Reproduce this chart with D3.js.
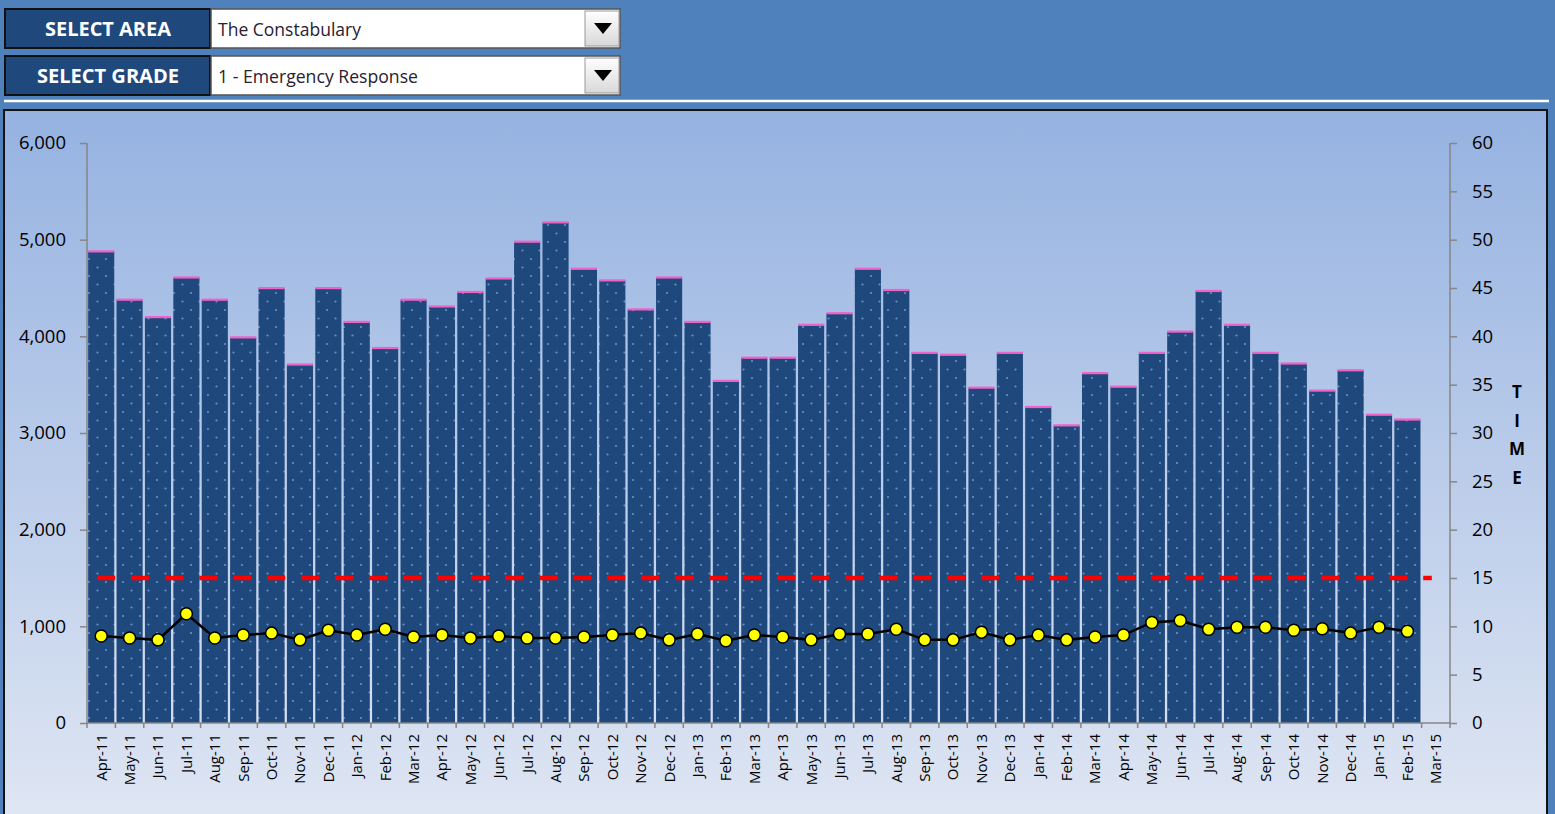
<!DOCTYPE html>
<html><head><meta charset="utf-8">
<script src="https://cdn.jsdelivr.net/npm/d3@7"></script>
<style>
html,body{margin:0;padding:0;background:#4f81bd;overflow:hidden;}
svg{display:block;}
</style></head>
<body>
<script>
const months = ["Apr-11","May-11","Jun-11","Jul-11","Aug-11","Sep-11","Oct-11","Nov-11","Dec-11","Jan-12","Feb-12","Mar-12",
"Apr-12","May-12","Jun-12","Jul-12","Aug-12","Sep-12","Oct-12","Nov-12","Dec-12","Jan-13","Feb-13","Mar-13",
"Apr-13","May-13","Jun-13","Jul-13","Aug-13","Sep-13","Oct-13","Nov-13","Dec-13","Jan-14","Feb-14","Mar-14",
"Apr-14","May-14","Jun-14","Jul-14","Aug-14","Sep-14","Oct-14","Nov-14","Dec-14","Jan-15","Feb-15","Mar-15"];
const incidents = [4880,4380,4200,4610,4380,3990,4500,3710,4500,4150,3880,4380,
4310,4460,4600,4980,5180,4700,4580,4280,4610,4150,3540,3780,
3780,4120,4240,4700,4480,3830,3810,3470,3830,3270,3080,3620,
3480,3830,4050,4470,4120,3830,3720,3440,3650,3190,3140,null];
const responseTime = [9.0,8.8,8.6,11.3,8.8,9.1,9.3,8.6,9.6,9.1,9.7,8.9,
9.1,8.8,9.0,8.8,8.8,8.9,9.1,9.3,8.6,9.2,8.5,9.1,
8.9,8.6,9.2,9.2,9.7,8.6,8.6,9.4,8.6,9.1,8.6,8.9,
9.1,10.4,10.6,9.7,9.9,9.9,9.6,9.75,9.3,9.9,9.5,null];
const target = months.map(() => 15);
const leftTicks = [0,1000,2000,3000,4000,5000,6000];
const rightTicks = [0,5,10,15,20,25,30,35,40,45,50,55,60];
const areaLabel = "SELECT AREA", areaValue = "The Constabulary";
const gradeLabel = "SELECT GRADE", gradeValue = "1 - Emergency Response";
const axisTitle = ["T","I","M","E"];

const W = 1555, H = 814;
const font = "'Open Sans','Noto Sans',sans-serif";
const svg = d3.select("body").append("svg").attr("width", W).attr("height", H);
const defs = svg.append("defs");
const g1 = defs.append("linearGradient").attr("id","bg").attr("x1",0).attr("y1",0).attr("x2",0).attr("y2",1);
g1.append("stop").attr("offset","0%").attr("stop-color","#95b2e1");
g1.append("stop").attr("offset","100%").attr("stop-color","#dfe6f3");
const g2 = defs.append("linearGradient").attr("id","btn").attr("x1",0).attr("y1",0).attr("x2",0).attr("y2",1);
g2.append("stop").attr("offset","0%").attr("stop-color","#ffffff");
g2.append("stop").attr("offset","100%").attr("stop-color","#d8d8d8");
const pat = defs.append("pattern").attr("id","dots").attr("patternUnits","userSpaceOnUse")
  .attr("width",17).attr("height",17);
pat.append("rect").attr("width",17).attr("height",17).attr("fill","#1f497d");
pat.append("circle").attr("cx",4).attr("cy",4).attr("r",1.1).attr("fill","#6690c8");
pat.append("circle").attr("cx",12.5).attr("cy",12.5).attr("r",1.1).attr("fill","#6690c8");

// header
function selector(y, label, value, lw, vw) {
  svg.append("rect").attr("x",5).attr("y",y).attr("width",205).attr("height",39)
    .attr("fill","#1f497d").attr("stroke","#111").attr("stroke-width",2);
  svg.append("text").attr("x",108).attr("y",y+27).attr("text-anchor","middle")
    .attr("fill","#fff").attr("font-family",font).attr("font-weight","bold").attr("font-size",19)
    .attr("textLength",lw).attr("lengthAdjust","spacingAndGlyphs").text(label);
  svg.append("rect").attr("x",211).attr("y",y).attr("width",409).attr("height",39)
    .attr("fill","#fff").attr("stroke","#555").attr("stroke-width",1.5);
  svg.append("rect").attr("x",585).attr("y",y+2).attr("width",34).attr("height",35)
    .attr("fill","url(#btn)").attr("stroke","#999").attr("stroke-width",1);
  svg.append("path").attr("d",`M594,${y+14}L612,${y+14}L603,${y+25}Z`).attr("fill","#000");
  svg.append("text").attr("x",218).attr("y",y+27).attr("fill","#2a2030")
    .attr("font-family",font).attr("font-size",17.5)
    .attr("textLength",vw).attr("lengthAdjust","spacingAndGlyphs").text(value);
}
selector(9, areaLabel, areaValue, 126, 143);
selector(56, gradeLabel, gradeValue, 142, 200);
svg.append("line").attr("x1",4).attr("x2",1549).attr("y1",101).attr("y2",101)
  .attr("stroke","#fff").attr("stroke-width",2.5);

// chart panel
svg.append("rect").attr("x",4).attr("y",110).attr("width",1543).attr("height",710)
  .attr("fill","url(#bg)").attr("stroke","#111").attr("stroke-width",2);

const x = d3.scaleBand().domain(months).range([87,1450]).paddingInner(0.08).paddingOuter(0.04);
const step = x.step();
const yL = d3.scaleLinear().domain([0,6000]).range([723,143]);
const yR = d3.scaleLinear().domain([0,60]).range([723,143]);

const bars = months.map((m,i)=>({m, v:incidents[i]})).filter(d=>d.v!=null);
svg.append("g").selectAll("rect").data(bars).join("rect")
  .attr("x",d=>x(d.m)).attr("y",d=>yL(d.v)).attr("width",x.bandwidth())
  .attr("height",d=>yL(0)-yL(d.v)).attr("fill","url(#dots)");
svg.append("g").selectAll("rect").data(bars).join("rect")
  .attr("x",d=>x(d.m)).attr("y",d=>yL(d.v)-1).attr("width",x.bandwidth())
  .attr("height",2.2).attr("fill","#f062c8");

// axes
const axisColor = "#868686";
const left = svg.append("g").attr("transform","translate(87,0)")
  .call(d3.axisLeft(yL).tickValues(leftTicks).tickFormat(d3.format(",")).tickSize(7).tickPadding(14));
const right = svg.append("g").attr("transform","translate(1450,0)")
  .call(d3.axisRight(yR).tickValues(rightTicks).tickSize(7).tickPadding(15));
const bottom = svg.append("g").attr("transform","translate(0,723)")
  .call(d3.axisBottom(x).tickSize(0).tickPadding(0));
[left,right,bottom].forEach(a=>{
  a.select(".domain").attr("stroke",axisColor).attr("stroke-width",1.5);
  a.selectAll(".tick line").attr("stroke",axisColor).attr("stroke-width",1.5);
  a.selectAll("text").attr("font-family",font).attr("fill","#000");
});
left.selectAll("text").attr("font-size",18.5);
right.selectAll("text").attr("font-size",18.5);
left.select(".domain").attr("d","M0,143V723");
right.select(".domain").attr("d","M0,143V723");
bottom.select(".domain").attr("d","M87,0H1450");
bottom.selectAll(".tick text").attr("font-size",15)
  .attr("transform","rotate(-90)").attr("text-anchor","end").attr("dx","-11px").attr("dy","0.36em").attr("y",0).attr("x",0);
// category boundary ticks
const bounds = d3.range(months.length+1).map(i=>87 + i*step);
svg.append("g").selectAll("line").data(bounds).join("line")
  .attr("x1",d=>d).attr("x2",d=>d).attr("y1",723).attr("y2",728)
  .attr("stroke",axisColor).attr("stroke-width",1.5);

// target line
svg.append("path").datum(target)
  .attr("d", d3.line().x((d,i)=>x(months[i])+x.bandwidth()/2).y(d=>yR(d)))
  .attr("fill","none").attr("stroke","#ff0000").attr("stroke-width",4.5)
  .attr("stroke-dasharray","18,16").attr("transform","translate(-4,0)");

// response time line
const pts = months.map((m,i)=>({m, v:responseTime[i]})).filter(d=>d.v!=null);
svg.append("path").datum(pts)
  .attr("d", d3.line().x(d=>x(d.m)+x.bandwidth()/2).y(d=>yR(d.v)))
  .attr("fill","none").attr("stroke","#000").attr("stroke-width",2.5);
svg.append("g").selectAll("circle").data(pts).join("circle")
  .attr("cx",d=>x(d.m)+x.bandwidth()/2).attr("cy",d=>yR(d.v)).attr("r",6)
  .attr("fill","#ffff00").attr("stroke","#000").attr("stroke-width",1.5);

// TIME title
svg.append("g").selectAll("text").data(axisTitle).join("text")
  .attr("x",1517).attr("y",(d,i)=>398+i*28.5).attr("text-anchor","middle")
  .attr("font-family",font).attr("font-weight","bold").attr("font-size",17).attr("fill","#000")
  .text(d=>d);
</script>
</body></html>
